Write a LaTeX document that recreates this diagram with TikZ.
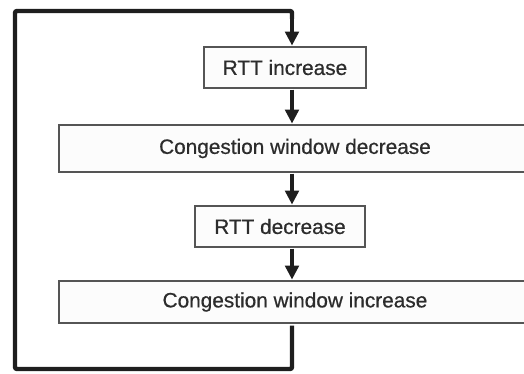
\documentclass[tikz,border=0pt]{standalone}
\usepackage{fontspec}
\setmainfont{Liberation Sans}
\newfontfamily\stagefont[FakeBold=0.6]{Liberation Sans}
\usepackage{tikz}
\usetikzlibrary{arrows.meta}
\tikzset{>=Stealth}
\definecolor{boxline}{HTML}{555555}
\definecolor{boxfill}{HTML}{FCFCFC}
\definecolor{boxtext}{HTML}{2C2C2C}
\definecolor{flowline}{HTML}{1E1E1E}

\begin{document}
\begin{tikzpicture}[x=1pt,y=-1pt,
    stage/.style={draw=boxline,line width=1.4pt,fill=boxfill,text=boxtext,
        font=\stagefont\fontsize{20.8}{24}\selectfont,inner sep=0pt,anchor=center},
    flow/.style={every edge/.append style={draw=flowline,line width=4.4pt,
        -{Triangle[length=14pt,width=13.5pt]}}},
    loopline/.style={draw=flowline,line width=4.4pt,rounded corners=2pt}]
    \useasboundingbox (0,0) rectangle (524,374);
    \node[stage,minimum width=162pt,minimum height=41pt] at (285,67.5) (rttinc) {RTT increase};
    \node[stage,minimum width=472pt,minimum height=47pt] at (295,148.5) (cwdec) {Congestion window decrease};
    \node[stage,minimum width=170pt,minimum height=41pt] at (280,226.5) (rttdec) {RTT decrease};
    \node[stage,minimum width=472pt,minimum height=42pt] at (295,302) (cwinc) {Congestion window increase};
    \coordinate (axis) at (292,0);
    \coordinate (lowleft) at (15,369);
    \coordinate (upleft) at (15,11);
    \draw[loopline] ([yshift=-2pt]cwinc.south -| axis) -- (axis |- lowleft) -- (lowleft) -- (upleft) -- (axis |- upleft) -- +(0,8);
    \path[flow]
    (axis |- upleft) edge ([yshift=0.7pt]rttinc.north -| axis)
    ([yshift=-1pt]rttinc.south -| axis) edge ([yshift=0.7pt]cwdec.north -| axis)
    ([yshift=-1pt]cwdec.south -| axis) edge ([yshift=0.7pt]rttdec.north -| axis)
    ([yshift=-1pt]rttdec.south -| axis) edge ([yshift=0.7pt]cwinc.north -| axis)
    ;
\end{tikzpicture}
\end{document}
